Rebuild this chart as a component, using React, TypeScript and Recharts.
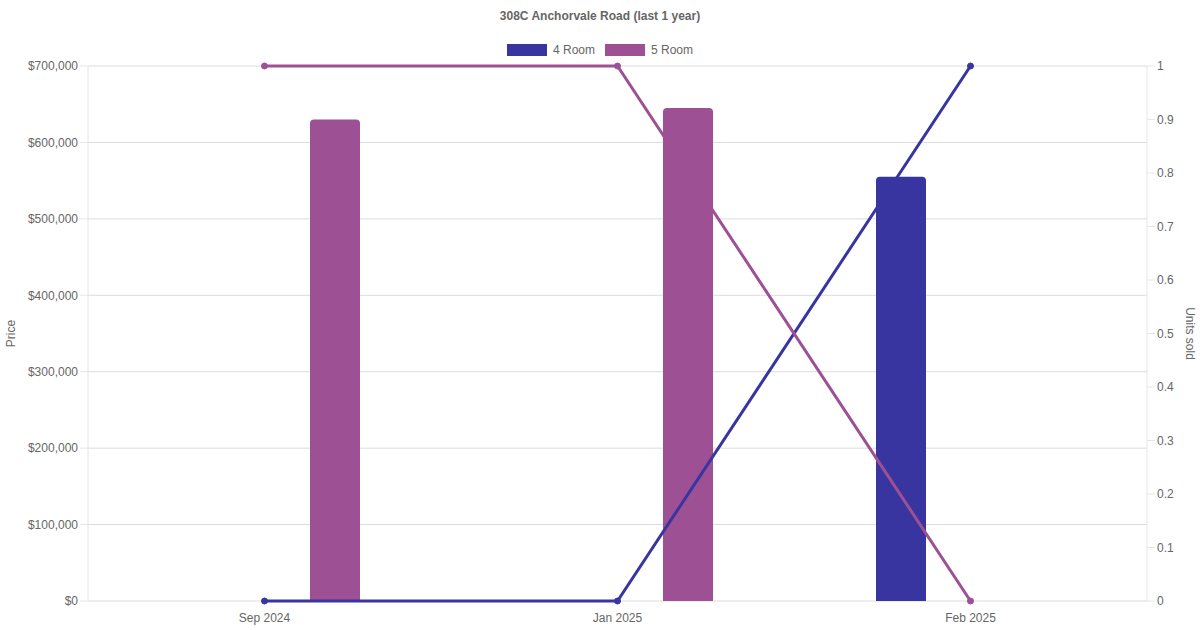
import {
  ComposedChart,
  Bar,
  Line,
  XAxis,
  YAxis,
  CartesianGrid,
} from "recharts";

// values
const months = ["Sep 2024", "Jan 2025", "Feb 2025"];
const price4Room = [null, null, 555000];
const price5Room = [630000, 645000, null];
const units4Room = [0, 0, 1];
const units5Room = [1, 1, 0];
const priceTicks = [0, 100000, 200000, 300000, 400000, 500000, 600000, 700000];
const unitTicks = [0, 0.1, 0.2, 0.3, 0.4, 0.5, 0.6, 0.7, 0.8, 0.9, 1];

const BLUE = "#3935a0";
const PURPLE = "#9e5094";
const FONT = "'Liberation Sans', Arial, Helvetica, sans-serif";

const rows = months.map((m, i) => ({
  month: m,
  p4: price4Room[i],
  p5: price5Room[i],
  u4: units4Room[i],
  u5: units5Room[i],
}));

const fmtPrice = (v: number) => "$" + v.toLocaleString("en-US");

export default function App() {
  return (
    <div
      style={{
        position: "absolute",
        left: 0,
        top: 0,
        width: 1200,
        height: 630,
        background: "#fff",
        fontFamily: FONT,
      }}
    >
      <div
        style={{
          position: "absolute",
          top: 9,
          width: 1200,
          textAlign: "center",
          fontSize: 12,
          fontWeight: "bold",
          color: "#666",
        }}
      >
        308C Anchorvale Road (last 1 year)
      </div>
      <div
        style={{
          position: "absolute",
          top: 43,
          left: 0,
          width: 1200,
          display: "flex",
          justifyContent: "center",
          fontSize: 12,
          color: "#666",
          lineHeight: "14px",
        }}
      >
        {[
          ["4 Room", BLUE],
          ["5 Room", PURPLE],
        ].map(([name, col]) => (
          <div key={name} style={{ display: "flex", alignItems: "center", margin: "0 5px" }}>
            <span style={{ width: 40, height: 12, background: col, marginRight: 6 }} />
            <span>{name}</span>
          </div>
        ))}
      </div>
      <ComposedChart
        width={1200}
        height={630}
        data={rows}
        margin={{ top: 66, right: 0, bottom: 0, left: 0 }}
        barSize={50}
        barGap={90}
      >
        <CartesianGrid vertical={false} stroke="#dcdcdc" yAxisId="price" />
        <XAxis
          dataKey="month"
          height={29}
          tickLine={false}
          axisLine={false}
          tick={{ fontSize: 12, fill: "#666", fontFamily: FONT }}
          tickMargin={6}
        />
        <YAxis
          yAxisId="price"
          orientation="left"
          width={88}
          domain={[0, 700000]}
          ticks={priceTicks}
          tickFormatter={fmtPrice}
          tickSize={8}
          tickLine={{ stroke: "#e6e6e6" }}
          axisLine={{ stroke: "#e6e6e6" }}
          tick={{ fontSize: 12, fill: "#666", fontFamily: FONT }}
          label={{
            value: "Price",
            angle: -90,
            position: "insideLeft",
            offset: 11,
            style: { fontSize: 12, fill: "#666", fontFamily: FONT, textAnchor: "middle" },
          }}
        />
        <YAxis
          yAxisId="units"
          orientation="right"
          width={53}
          domain={[0, 1]}
          ticks={unitTicks}
          tickSize={8}
          tickLine={{ stroke: "#e6e6e6" }}
          axisLine={{ stroke: "#e6e6e6" }}
          tick={{ fontSize: 12, fill: "#666", fontFamily: FONT }}
          label={{
            value: "Units sold",
            angle: 90,
            position: "insideRight",
            offset: 10,
            style: { fontSize: 12, fill: "#666", fontFamily: FONT, textAnchor: "middle" },
          }}
        />
        <Bar yAxisId="price" dataKey="p4" name="4 Room" fill={BLUE} radius={[4, 4, 0, 0]} isAnimationActive={false} />
        <Bar yAxisId="price" dataKey="p5" name="5 Room" fill={PURPLE} radius={[4, 4, 0, 0]} isAnimationActive={false} />
        <Line
          yAxisId="units"
          dataKey="u4"
          stroke={BLUE}
          strokeWidth={3}
          dot={{ r: 3, fill: BLUE, stroke: BLUE, strokeWidth: 1 }}
          type="linear"
          isAnimationActive={false}
        />
        <Line
          yAxisId="units"
          dataKey="u5"
          stroke={PURPLE}
          strokeWidth={3}
          dot={{ r: 3, fill: PURPLE, stroke: PURPLE, strokeWidth: 1 }}
          type="linear"
          isAnimationActive={false}
        />
      </ComposedChart>
    </div>
  );
}
